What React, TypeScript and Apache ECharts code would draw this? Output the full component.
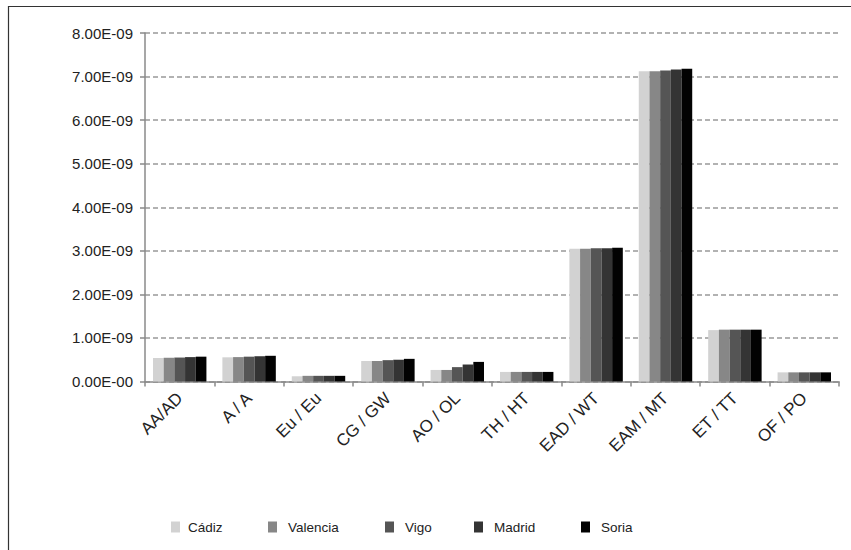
import React, { useEffect, useRef } from "react";
import * as echarts from "echarts";

const categories = ["AA/AD", "A / A", "Eu / Eu", "CG / GW", "AO / OL", "TH / HT", "EAD / WT", "EAM / MT", "ET / TT", "OF / PO"];
const seriesNames = ["Cádiz", "Valencia", "Vigo", "Madrid", "Soria"];
const cadiz = [0.54e-9, 0.555e-9, 0.12e-9, 0.47e-9, 0.265e-9, 0.22e-9, 3.05e-9, 7.12e-9, 1.18e-9, 0.21e-9];
const valencia = [0.545e-9, 0.56e-9, 0.13e-9, 0.47e-9, 0.265e-9, 0.22e-9, 3.05e-9, 7.12e-9, 1.19e-9, 0.21e-9];
const vigo = [0.55e-9, 0.57e-9, 0.13e-9, 0.49e-9, 0.33e-9, 0.22e-9, 3.06e-9, 7.14e-9, 1.19e-9, 0.21e-9];
const madrid = [0.56e-9, 0.58e-9, 0.13e-9, 0.5e-9, 0.39e-9, 0.22e-9, 3.06e-9, 7.16e-9, 1.19e-9, 0.21e-9];
const soria = [0.57e-9, 0.59e-9, 0.13e-9, 0.52e-9, 0.45e-9, 0.22e-9, 3.07e-9, 7.18e-9, 1.19e-9, 0.21e-9];
const seriesValues = [cadiz, valencia, vigo, madrid, soria];
const colors = ["#d2d2d2", "#878787", "#555555", "#343434", "#020202"];
const legendLeft = [171, 268, 385, 474, 581];
const legendPad = [3, 6, 6, 6, 6];

const fmt = (v: number) => {
  if (Math.abs(v) < 1e-15) return "0.00E-00";
  const s = v.toExponential(2);
  const [m, e] = s.split("e");
  const ex = parseInt(e, 10);
  return m + "E" + (ex < 0 ? "-" : "+") + String(Math.abs(ex)).padStart(2, "0");
};

export default function App() {
  const ref = useRef<HTMLDivElement>(null);
  useEffect(() => {
    if (!ref.current) return;
    const chart = echarts.init(ref.current, null, { renderer: "svg" });
    const font = "'Liberation Sans', Arial, Helvetica, sans-serif";
    chart.setOption({
      animation: false,
      backgroundColor: "#ffffff",
      graphic: [
        {
          type: "rect",
          shape: { x: 8.5, y: 6.5, width: 900, height: 600 },
          style: { fill: "none", stroke: "#333333", lineWidth: 1.2 },
          silent: true,
        },
      ],
      grid: { left: 145, right: 12, top: 33, bottom: 168.5, containLabel: false },
      legend: seriesNames.map((n, i) => ({
        data: [n],
        left: legendLeft[i],
        top: 520,
        padding: 0,
        itemWidth: 9,
        itemHeight: 11,
        icon: "rect",
        selectedMode: false,
        textStyle: {
          fontFamily: font,
          fontSize: 13.5,
          color: "#222222",
          padding: [0, 0, 0, legendPad[i]],
        },
      })),
      xAxis: {
        type: "category",
        data: categories,
        axisLine: { lineStyle: { color: "#8a8a8a", width: 1.5 } },
        axisTick: { show: true, length: 5, lineStyle: { color: "#8a8a8a", width: 1.5 } },
        axisLabel: {
          rotate: 45,
          interval: 0,
          margin: 14,
          fontSize: 17,
          fontFamily: font,
          color: "#222222",
        },
        splitLine: { show: false },
      },
      yAxis: {
        type: "value",
        min: 0,
        max: 8e-9,
        interval: 1e-9,
        axisLine: { show: true, lineStyle: { color: "#8a8a8a", width: 1.5 } },
        axisTick: { show: true, length: 5, lineStyle: { color: "#8a8a8a", width: 1.5 } },
        axisLabel: {
          formatter: fmt,
          margin: 12,
          fontSize: 15,
          fontFamily: font,
          color: "#222222",
        },
        splitLine: { show: true, lineStyle: { color: "#999999", width: 1.5, type: [5, 3] } },
      },
      series: seriesNames.map((n, i) => ({
        name: n,
        type: "bar",
        data: seriesValues[i],
        barGap: "0%",
        barCategoryGap: "23%",
        itemStyle: { color: colors[i] },
      })),
    });
    return () => chart.dispose();
  }, []);
  return (
    <div
      ref={ref}
      style={{ position: "fixed", left: 0, top: 0, width: 851, height: 550 }}
    />
  );
}
